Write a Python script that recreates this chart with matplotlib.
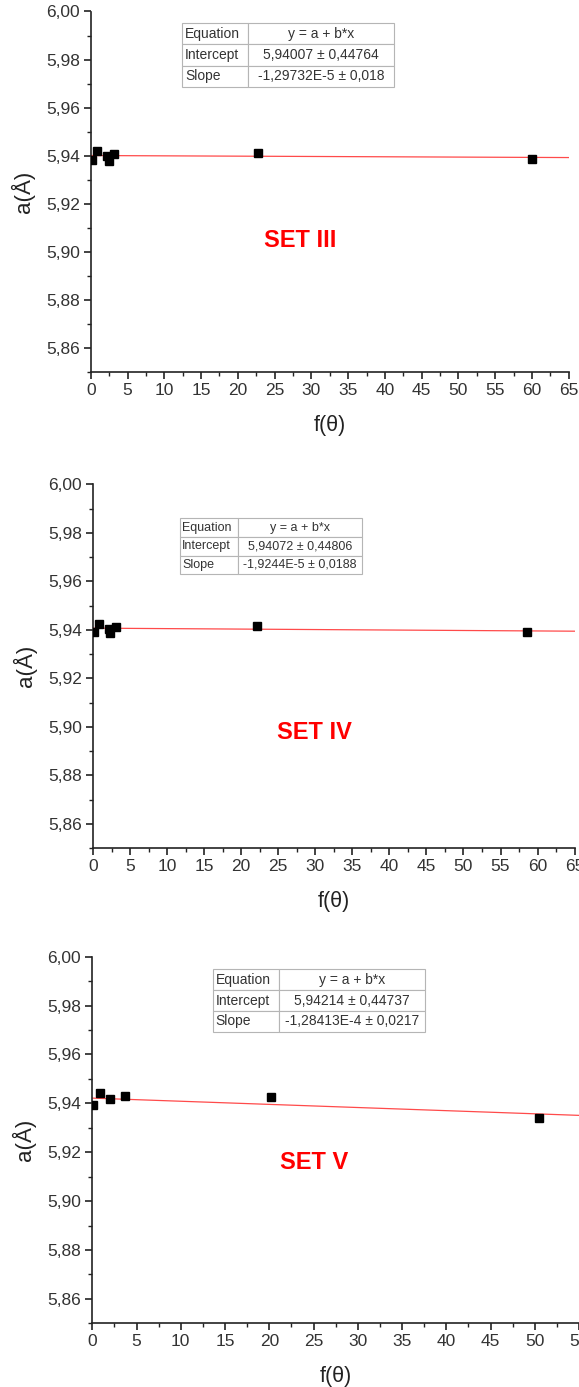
import matplotlib
matplotlib.use("Agg")
import matplotlib.pyplot as plt
import numpy as np
from matplotlib.ticker import MultipleLocator, FuncFormatter

plt.rcParams['font.family'] = ['Liberation Sans', 'DejaVu Sans']

# ---------------- data ----------------
set_names = ["SET III", "SET IV", "SET V"]

x_set3 = [0.1, 0.81, 2.27, 2.42, 3.22, 22.7, 60.0]
y_set3 = [5.9384, 5.9420, 5.9400, 5.9380, 5.9406, 5.9410, 5.9385]

x_set4 = [0.1, 0.81, 2.15, 2.3, 3.15, 22.2, 58.6]
y_set4 = [5.9393, 5.9423, 5.9404, 5.9386, 5.9412, 5.9418, 5.9390]

x_set5 = [0.12, 0.84, 2.05, 3.67, 20.15, 50.5]
y_set5 = [5.9394, 5.9443, 5.9419, 5.9428, 5.9426, 5.9340]

intercepts = [5.94007, 5.94072, 5.94214]
slopes = [-1.29732e-5, -1.9244e-5, -1.28413e-4]
intercept_txt = ["5,94007 \u00b1 0,44764", "5,94072 \u00b1 0,44806", "5,94214 \u00b1 0,44737"]
slope_txt = ["-1,29732E-5 \u00b1 0,018", "-1,9244E-5 \u00b1 0,0188", "-1,28413E-4 \u00b1 0,0217"]
xmax = [65, 65, 55]

xs = [x_set3, x_set4, x_set5]
ys = [y_set3, y_set4, y_set5]

# ---------------- layout (pixels) ----------------
W, H = 579, 1387
fig = plt.figure(figsize=(W / 100, H / 100), dpi=100)

# left, right, top, bottom in pixels
ax_px = [(90.8, 568.7, 11.5, 372.0),
         (93.0, 574.6, 484.3, 848.3),
         (92.3, 579.1, 956.7, 1323.3)]
# table bbox in axes fraction [x0, y0, w, h], left column fraction, fontsize
tables = [([0.1915, 0.7914, 0.443, 0.176], 0.312, 10),
          ([0.180, 0.7527, 0.378, 0.154], 0.323, 9),
          ([0.248, 0.7954, 0.436, 0.170], 0.310, 10)]
set_pos = [(28.5, 5.9048), (29.9, 5.8979), (25.1, 5.9156)]

comma2 = FuncFormatter(lambda v, p: f"{v:.2f}".replace('.', ','))
intfmt = FuncFormatter(lambda v, p: f"{v:.0f}")

for i in range(3):
    l, r, t, b = ax_px[i]
    ax = fig.add_axes([l / W, 1 - b / H, (r - l) / W, (b - t) / H])
    ax.set_xlim(0, xmax[i])
    ax.set_ylim(5.85, 6.00)
    for s in ['top', 'right']:
        ax.spines[s].set_visible(False)
    for s in ['left', 'bottom']:
        ax.spines[s].set_linewidth(1.2)
        ax.spines[s].set_color('#222222')
    ax.xaxis.set_major_locator(MultipleLocator(5))
    ax.xaxis.set_minor_locator(MultipleLocator(2.5))
    ax.yaxis.set_major_locator(MultipleLocator(0.02))
    ax.yaxis.set_minor_locator(MultipleLocator(0.01))
    ax.yaxis.set_major_formatter(comma2)
    ax.xaxis.set_major_formatter(intfmt)
    ax.tick_params(which='major', direction='out', length=5, width=1.2,
                   labelsize=12.5, pad=3, colors='#222222', labelcolor='#333333')
    ax.tick_params(which='minor', direction='out', length=3, width=1.0, colors='#222222')

    # fit line
    xl = np.array([0, xmax[i]])
    ax.plot(xl, intercepts[i] + slopes[i] * xl, color='#ff4a4a', lw=0.9, zorder=2)
    # points
    ax.plot(xs[i], ys[i], 's', color='black', markersize=5.2, zorder=3)

    ax.set_xlabel("f(\u03b8)", fontsize=15.5, labelpad=12, color='#222222')
    ax.set_ylabel("a(\u00c5)", fontsize=16, labelpad=8, color='#222222')

    ax.text(set_pos[i][0], set_pos[i][1], set_names[i], color='#ff0000',
            fontsize=17, fontweight='bold', ha='center', va='center')

    bbox, lc, fs = tables[i]
    cells = [["Equation", "y = a + b*x"],
             ["Intercept", intercept_txt[i]],
             ["Slope", slope_txt[i]]]
    tb = ax.table(cellText=cells, bbox=bbox, colWidths=[lc, 1 - lc],
                  cellLoc='center', zorder=4)
    tb.auto_set_font_size(False)
    tb.set_fontsize(fs)
    for (rr, cc), cell in tb.get_celld().items():
        cell.set_edgecolor('#b5b5b5')
        cell.set_linewidth(0.8)
        cell.get_text().set_color('#333333')
        if cc == 0:
            cell.get_text().set_ha('left')
            cell.PAD = 0.04

fig.savefig("out.png", dpi=100)
